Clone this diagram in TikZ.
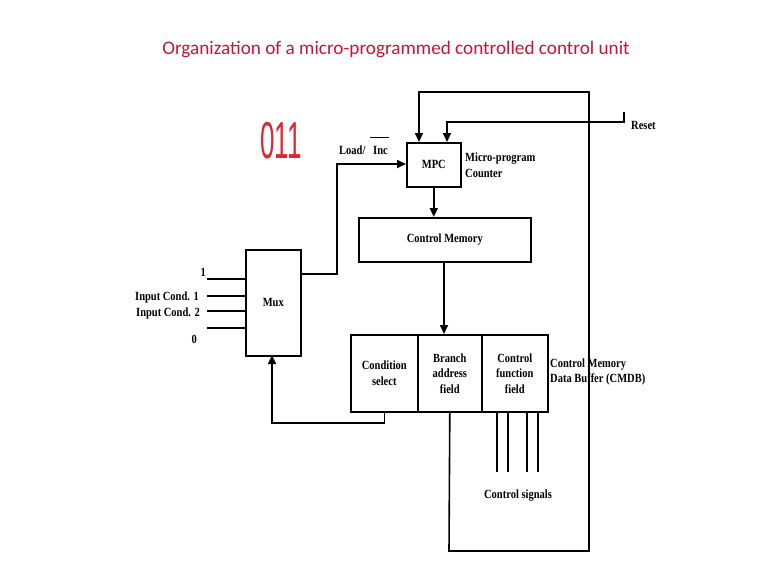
\documentclass[tikz,border=0pt]{standalone}
\usepackage{fontspec}
\setmainfont{Liberation Serif}[FakeStretch=0.84]
\newfontfamily\titlefont{Carlito}
\newfontfamily\handfont{Liberation Sans}[FakeStretch=0.5]
\usetikzlibrary{arrows.meta}
\definecolor{titlered}{RGB}{200,20,50}
\definecolor{handred}{RGB}{220,40,50}
\begin{document}
\begin{tikzpicture}[x=1pt,y=-1pt,
  box/.style={draw, line width=1.6pt, inner sep=0pt, anchor=north west},
  wire/.style={line width=1.6pt},
  arr/.style={line width=1.6pt, -{Triangle[length=9pt,width=8pt]}},
  lbl/.style={font=\bfseries\fontsize{12.5}{15.5}\selectfont, inner sep=0pt, align=center},
]
\useasboundingbox (0,0) rectangle (767,576);
\node[font=\titlefont\fontsize{19.2}{21}\selectfont, text=titlered] (title) at (396,49) {Organization of a micro-programmed controlled control unit};
\node[font=\handfont\fontsize{52}{52}\selectfont, text=handred] (hand) at (281,141) {011};

% boxes
\node[box, minimum width=54pt, minimum height=44pt] (mpc) at (406,142) {};
\node[lbl] at (mpc.center) {MPC};
\node[box, minimum width=172pt, minimum height=44pt] (cm) at (358,217) {};
\node[lbl] at (cm.center) {Control Memory};
\node[box, minimum width=55pt, minimum height=106pt] (mux) at (245,249) {};
\node[lbl] at (mux.center) {Mux};
\node[box, minimum width=67pt, minimum height=77pt] (cs) at (350,334) {};
\node[box, minimum width=64pt, minimum height=77pt] (ba) at (417,334) {};
\node[box, minimum width=66pt, minimum height=77pt] (cf) at (481,334) {};
\node[lbl] at (cs.center) {Condition\\select};
\node[lbl] at (ba.center) {Branch\\address\\field};
\node[lbl] at (cf.center) {Control\\function\\field};

% labels
\node[lbl, align=left, anchor=west] (mpclbl) at (465,165) {Micro-program\\Counter};
\node[lbl, align=left, anchor=west] (cmdb) at (550,372) {Control Memory\\Data Buffer (CMDB)};
\node[lbl, anchor=west] (reset) at (631,125) {Reset};
\node[lbl, anchor=west] (load) at (339,150) {Load/};
\node[lbl, anchor=west] (inc) at (373,150) {Inc};
\draw[line width=1.2pt] (370,137.5) -- (389,137.5);
\node[lbl] (ctrlsig) at (518,496) {Control signals};
\node[lbl, anchor=east] (in1) at (206,272) {1};
\node[lbl, anchor=east] (ic1) at (199,297) {Input Cond. 1};
\node[lbl, anchor=east] (ic2) at (200,313) {Input Cond. 2};
\node[lbl, anchor=east] (in0) at (197,339) {0};

% mux inputs
\coordinate (i1) at (207,279);
\coordinate (i2) at (207,296);
\coordinate (i3) at (207,311);
\coordinate (i4) at (207,328);
\draw[wire] (i1) -- (i1 -| mux.west);
\draw[wire] (i2) -- (i2 -| mux.west);
\draw[wire] (i3) -- (i3 -| mux.west);
\draw[wire] (i4) -- (i4 -| mux.west);

% mux output to MPC
\coordinate (mo) at (300,274);
\draw[arr] (mo) -| (337,164) -- (mpc.west |- 0,164);

% MPC to CM
\draw[arr] (mpc.south) -- (mpc.south |- cm.north);
% CM to CMDB
\draw[arr] (444,261) -- (444,334);

% condition select back to mux
\draw[arr] (cs.south) |- (272,423) -- (272,355);

% loop from branch address to MPC
\coordinate (ltop) at (419,92);
\draw[arr] (ba.south) -- (449,551) -- (589,551) -- (589,92) -- (ltop) -- (419,142);

% reset
\coordinate (rs) at (624,112);
\draw[arr] (rs) -- (624,122) -- (447,122) -- (447,142);

% control signals
\foreach \x/\n in {497/a,508/b,527/c,538/d}{
  \draw[wire] (\x,411) -- (\x,472);
}
\end{tikzpicture}
\end{document}
